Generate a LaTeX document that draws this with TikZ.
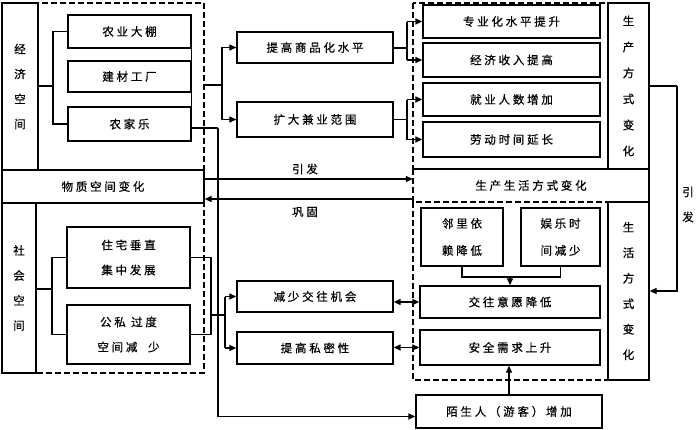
\documentclass[tikz,border=0pt]{standalone}
\usepackage{fontspec}
\newfontfamily\cjk[LetterSpace=24,FakeBold=0.6]{Noto Sans CJK SC}
\usetikzlibrary{arrows.meta,calc}
\tikzset{
  box/.style={draw, line width=1.3pt, inner sep=0pt, align=center,
    font=\cjk\fontsize{11.5}{25}\selectfont},
  lbl/.style={inner sep=0pt, align=center, font=\cjk\fontsize{11.5}{25}\selectfont},
  frame/.style={line width=2.4pt, dash pattern=on 6pt off 3pt},
  ln/.style={line width=1.3pt},
  arr/.style={line width=1.3pt, -{Triangle[length=7pt,width=6pt]}},
  darr/.style={line width=1.3pt, {Triangle[length=7pt,width=6pt]}-{Triangle[length=7pt,width=6pt]}},
}
\begin{document}
\begin{tikzpicture}[x=1pt,y=-1pt]
\useasboundingbox (0,0) rectangle (700,429);
% left side
\node[box, minimum width=36pt, minimum height=167pt] (jjkj) at (20,86.5) {经\\济\\空\\间};
\node[box, minimum width=202pt, minimum height=33pt] (wzkj) at (103,186.5) {物质空间变化};
\node[box, minimum width=34pt, minimum height=170pt] (shkj) at (19,288) {社\\会\\空\\间};
\node[box, minimum width=123pt, minimum height=33pt] (nydp) at (129.5,31.5) {农业大棚};
\node[box, minimum width=123pt, minimum height=31pt] (jcgc) at (129.5,76.5) {建材工厂};
\node[box, minimum width=123pt, minimum height=34pt] (njl) at (129.5,124) {农家乐};
\node[box, minimum width=123pt, minimum height=61pt] (zzcz) at (128.5,257.5) {住宅垂直\\集中发展};
\node[box, minimum width=123pt, minimum height=59pt] (gsgd) at (128.5,334.5) {公私 过度\\空间减\ \ 少};
% middle
\node[box, minimum width=156pt, minimum height=31pt] (tgsp) at (315,47.5) {提高商品化水平};
\node[box, minimum width=156pt, minimum height=35pt] (kdjy) at (315,119.5) {扩大兼业范围};
\node[box, minimum width=156pt, minimum height=31pt] (jsjw) at (315,296.5) {减少交往机会};
\node[box, minimum width=156pt, minimum height=32pt] (tgsm) at (315,348) {提高私密性};
% right top
\node[box, minimum width=177pt, minimum height=33pt] (zyh) at (511.5,21.5) {专业化水平提升};
\node[box, minimum width=177pt, minimum height=34pt] (jjsr) at (511.5,60) {经济收入提高};
\node[box, minimum width=177pt, minimum height=33pt] (jyrs) at (511.5,99.5) {就业人数增加};
\node[box, minimum width=177pt, minimum height=35pt] (ldsj) at (511.5,139.5) {劳动时间延长};
\node[box, minimum width=41pt, minimum height=166pt, font=\cjk\fontsize{11.5}{26}\selectfont] (scfs) at (628.5,86) {生\\产\\方\\式\\变\\化};
% band
\node[lbl, minimum width=236pt, minimum height=33pt] (scsh) at (531,185.5) {生产生活方式变化};
% right bottom
\node[box, minimum width=82pt, minimum height=58pt, font=\cjk\fontsize{11.5}{27}\selectfont] (lljl) at (462,237) {邻里依\\赖降低};
\node[box, minimum width=79pt, minimum height=58pt, font=\cjk\fontsize{11.5}{27}\selectfont] (ylsj) at (560.5,237) {娱乐时\\间减少};
\node[box, minimum width=180pt, minimum height=32pt] (jwyy) at (510,302) {交往意愿降低};
\node[box, minimum width=180pt, minimum height=35pt] (aqxq) at (510,347.5) {安全需求上升};
\node[box, minimum width=41pt, minimum height=178pt, font=\cjk\fontsize{11.5}{25.5}\selectfont] (shfs) at (628.5,291) {生\\活\\方\\式\\变\\化};
\node[box, minimum width=186pt, minimum height=33pt] (msr) at (509,411.5) {陌生人（游客）增加};
% dashed frames
\draw[frame] (2,3) rectangle (204,373);
\draw[frame] (413,3) rectangle (649,169);
\draw[frame] (413,169) rectangle (649,202);
\draw[frame] (413,202) rectangle (649,380);
\draw[ln] (649,3) -- (649,380);
% labels
\node[lbl] (yf1) at (305,169) {引发};
\node[lbl] (gg) at (305,212) {巩固};
\node[lbl] (yf2) at (688,204.5) {引\\发};
% economic bracket
\coordinate (eb) at (53,86);
\draw[ln] (jjkj.east |- eb) -- (eb);
\draw[ln] (nydp.west) -| (eb) |- (njl.west);
\draw[ln] (nydp.south east) -- (njl.north east);
\coordinate (eo) at (204,85);
\coordinate (ev) at (222,85);
\draw[ln] (eo) -- (ev);
\draw[ln] (ev) |- (tgsp.west);
\draw[arr] (ev |- tgsp.west) -- (tgsp.west);
\draw[ln] (ev) |- (kdjy.west);
\draw[arr] (ev |- kdjy.west) -- (kdjy.west);
% to production boxes
\coordinate (pv1) at (407,47.5);
\draw[ln, line width=2pt] (tgsp.east) -- (pv1);
\draw[ln] (pv1 |- zyh.west) -- (pv1 |- jjsr.west);
\draw[arr] (pv1 |- zyh.west) -- (zyh.west);
\draw[arr] (pv1 |- jjsr.west) -- (jjsr.west);
\coordinate (pv2) at (407,119.5);
\draw[ln] (kdjy.east) -- (pv2);
\draw[ln] (pv2 |- jyrs.west) -- (pv2 |- ldsj.west);
\draw[arr] (pv2 |- jyrs.west) -- (jyrs.west);
\draw[arr] (pv2 |- ldsj.west) -- (ldsj.west);
% nongjiale to strangers
\coordinate (nj1) at (218,128);
\draw[ln] ([yshift=-4pt]njl.east) -- (nj1);
\draw[arr] (nj1) |- ([yshift=-5pt]msr.west);
% material <-> lifestyle
\draw[arr] ([yshift=7.5pt]wzkj.east) -- ([yshift=6.5pt]scsh.west);
\draw[arr] ([yshift=-13.5pt]scsh.west) -- ([yshift=-12.5pt]wzkj.east);
% social bracket
\coordinate (sb) at (52,289);
\draw[ln] (shkj.east |- sb) -- (sb);
\draw[ln] (zzcz.west) -| (sb) |- (gsgd.west);
\coordinate (sr) at (211,257.5);
\draw[ln] (zzcz.east) -- (sr) |- (gsgd.east);
\coordinate (sr2) at (225,315);
\draw[ln] (sr |- sr2) -- (sr2);
\draw[ln] (sr2 |- jsjw.west) -- (sr2 |- tgsm.west);
\draw[arr] (sr2 |- jsjw.west) -- (jsjw.west);
\draw[arr] (sr2 |- tgsm.west) -- (tgsm.west);
% double arrows
\draw[darr] (jsjw.east |- jwyy.west) -- (jwyy.west);
\draw[darr] (tgsm.east |- aqxq.west) -- (aqxq.west);
% neighbors/entertainment to willingness
\coordinate (nm) at (510,277);
\draw[ln] (lljl.south) |- (nm) -| (ylsj.south);
\draw[arr] (nm) -- (nm |- jwyy.north);
% strangers to safety
\draw[arr] (msr.north) -- (msr.north |- aqxq.south);
% right loop
\coordinate (rl) at (677,86);
\draw[ln] (scfs.east) -- (rl);
\draw[arr] (rl) |- (shfs.east);
\end{tikzpicture}
\end{document}
